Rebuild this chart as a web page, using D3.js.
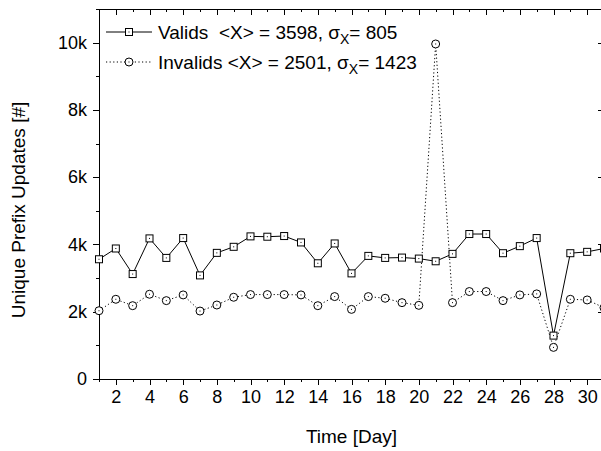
<!DOCTYPE html>
<html>
<head>
<meta charset="utf-8">
<script src="https://cdn.jsdelivr.net/npm/d3@7"></script>
<style>
  body { margin: 0; background: #fff; }
  svg { display: block; font-family: "Liberation Sans", Arial, sans-serif; }
</style>
</head>
<body>
<svg width="601" height="451"></svg>
<script>
// data
let days = [1, 2, 3, 4, 5, 6, 7, 8, 9, 10, 11, 12, 13, 14, 15, 16, 17, 18, 19, 20, 21, 22, 23, 24, 25, 26, 27, 28, 29, 30, 31];
let valids = [3560, 3880, 3120, 4180, 3600, 4190, 3080, 3750, 3930, 4240, 4230, 4250, 4060, 3440, 4030, 3140,
              3660, 3600, 3610, 3580, 3500, 3720, 4310, 4310, 3740, 3950, 4190, 1290, 3740, 3780, 3880];
let invalids = [2030, 2370, 2180, 2520, 2330, 2500, 2020, 2200, 2430, 2510, 2510, 2510, 2500, 2180, 2450, 2070,
                2450, 2400, 2270, 2190, 9960, 2270, 2600, 2600, 2330, 2500, 2530, 940, 2370, 2350, 2120];
let xMajor = [2, 4, 6, 8, 10, 12, 14, 16, 18, 20, 22, 24, 26, 28, 30];
let xMinor = [1, 3, 5, 7, 9, 11, 13, 15, 17, 19, 21, 23, 25, 27, 29, 31];
let yMajor = [0, 2000, 4000, 6000, 8000, 10000];
let yMinor = [1000, 3000, 5000, 7000, 9000, 11000];
let legendRows = [
    {name: "Valids  <X> = 3598, \u03c3", sub: "X", tail: "= 805", dash: null, mark: "square"},
    {name: "Invalids <X> = 2501, \u03c3", sub: "X", tail: "= 1423", dash: "1.2,2.4", mark: "circle"}
];

let svg = d3.select("svg");
let mLeft = 99, mRight = 604, mTop = 9, mBottom = 379;

let x = d3.scaleLinear().domain([1, 31]).range([mLeft, mRight]);
let y = d3.scaleLinear().domain([0, 11000]).range([mBottom, mTop]);

function kfmt(d) { return d === 0 ? "0" : (d / 1000) + "k"; }

function styleAxis(g) {
    g.selectAll("path, line").attr("stroke", "#000").attr("stroke-width", 1).attr("shape-rendering", "crispEdges");
    g.selectAll("text").attr("fill", "#000").attr("font-size", "18px")
        .attr("font-family", "'Liberation Sans', Arial, sans-serif");
}

// bottom axis
svg.append("g").attr("transform", "translate(0," + mBottom + ")")
    .call(d3.axisBottom(x).tickValues(xMajor).tickSize(6).tickSizeOuter(0).tickPadding(5))
    .call(styleAxis);
svg.append("g").attr("transform", "translate(0," + mBottom + ")")
    .call(d3.axisBottom(x).tickValues(xMinor).tickSize(3).tickSizeOuter(0).tickFormat(""))
    .call(styleAxis);

// top axis, ticks inward
svg.append("g").attr("transform", "translate(0," + mTop + ")")
    .call(d3.axisTop(x).tickValues(xMajor).tickSize(-6).tickSizeOuter(0).tickFormat(""))
    .call(styleAxis);
svg.append("g").attr("transform", "translate(0," + mTop + ")")
    .call(d3.axisTop(x).tickValues(xMinor).tickSize(-3).tickSizeOuter(0).tickFormat(""))
    .call(styleAxis);

// left axis
svg.append("g").attr("transform", "translate(" + mLeft + ",0)")
    .call(d3.axisLeft(y).tickValues(yMajor).tickSize(6).tickSizeOuter(0).tickPadding(6).tickFormat(kfmt))
    .call(styleAxis);
svg.append("g").attr("transform", "translate(" + mLeft + ",0)")
    .call(d3.axisLeft(y).tickValues(yMinor).tickSize(3).tickSizeOuter(0).tickFormat(""))
    .call(styleAxis);

// right axis, ticks inward
svg.append("g").attr("transform", "translate(" + mRight + ",0)")
    .call(d3.axisRight(y).tickValues(yMajor).tickSize(-6).tickSizeOuter(0).tickFormat(""))
    .call(styleAxis);
svg.append("g").attr("transform", "translate(" + mRight + ",0)")
    .call(d3.axisRight(y).tickValues(yMinor).tickSize(-3).tickSizeOuter(0).tickFormat(""))
    .call(styleAxis);

// axis titles
svg.append("text")
    .attr("x", (mLeft + mRight) / 2)
    .attr("y", 443)
    .attr("font-size", "19px")
    .style("text-anchor", "middle")
    .text("Time [Day]");

svg.append("text")
    .attr("transform", "translate(25,210) rotate(-90)")
    .attr("font-size", "19px")
    .style("text-anchor", "middle")
    .text("Unique Prefix Updates [#]");

// series
let line = d3.line().x((d, i) => x(days[i])).y(d => y(d));

svg.append("path").datum(invalids)
    .attr("d", line).attr("fill", "none").attr("stroke", "#000")
    .attr("stroke-width", 1).attr("stroke-dasharray", legendRows[1].dash);
svg.append("path").datum(valids)
    .attr("d", line).attr("fill", "none").attr("stroke", "#000").attr("stroke-width", 1);

function drawSquare(g, cx, cy) {
    g.append("rect").attr("x", cx - 3.5).attr("y", cy - 3.5).attr("width", 7).attr("height", 7)
        .attr("fill", "#fff").attr("stroke", "#000").attr("stroke-width", 1);
    g.append("rect").attr("x", cx - 0.5).attr("y", cy - 0.5).attr("width", 1).attr("height", 1).attr("fill", "#000");
}
function drawCircle(g, cx, cy) {
    g.append("circle").attr("cx", cx).attr("cy", cy).attr("r", 4)
        .attr("fill", "#fff").attr("stroke", "#000").attr("stroke-width", 1);
    g.append("rect").attr("x", cx - 0.5).attr("y", cy - 0.5).attr("width", 1).attr("height", 1).attr("fill", "#000");
}

let marks = svg.append("g");
invalids.forEach((v, i) => drawCircle(marks, x(days[i]), y(v)));
valids.forEach((v, i) => drawSquare(marks, x(days[i]), y(v)));

// legend
let legend = svg.append("g");
legendRows.forEach((r, i) => {
    let ly = 32 + i * 30;
    legend.append("line").attr("x1", 106).attr("x2", 152).attr("y1", ly).attr("y2", ly)
        .attr("stroke", "#000").attr("stroke-width", 1).attr("stroke-dasharray", r.dash);
    if (r.mark === "square") drawSquare(legend, 129, ly);
    else drawCircle(legend, 129, ly);
    let t = legend.append("text")
        .attr("x", 158).attr("y", ly + 7)
        .attr("font-size", "19px")
        .style("white-space", "pre");
    t.append("tspan").text(r.name);
    t.append("tspan").attr("dy", 5).attr("font-size", "14px").text(r.sub);
    t.append("tspan").attr("dy", -5).text(r.tail);
});
</script>
</body>
</html>
